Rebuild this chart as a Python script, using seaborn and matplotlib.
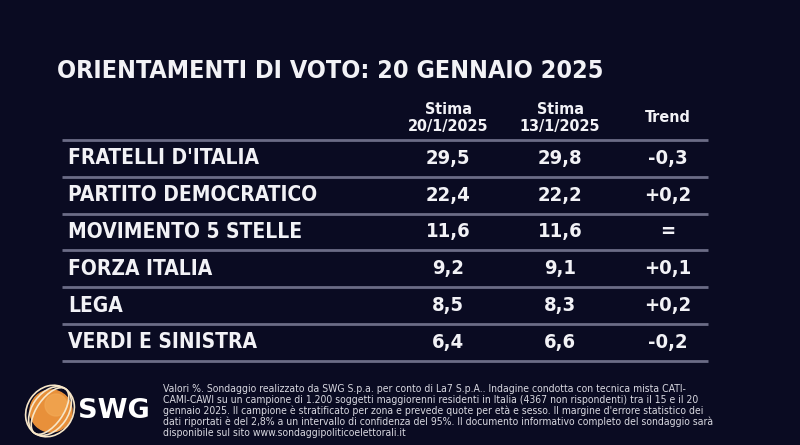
import numpy as np
import matplotlib
matplotlib.use("Agg")
import matplotlib.pyplot as plt
import matplotlib.patches as mpatches
import seaborn as sns

# Data
parties = ["FRATELLI D'ITALIA", "PARTITO DEMOCRATICO", "MOVIMENTO 5 STELLE",
           "FORZA ITALIA", "LEGA", "VERDI E SINISTRA"]
stima_20 = [29.5, 22.4, 11.6, 9.2, 8.5, 6.4]
stima_13 = [29.8, 22.2, 11.6, 9.1, 8.3, 6.6]
trend = ["-0,3", "+0,2", "=", "+0,1", "+0,2", "-0,2"]
headers = ["Stima\n20/1/2025", "Stima\n13/1/2025", "Trend"]
title = "ORIENTAMENTI DI VOTO: 20 GENNAIO 2025"
footer = [
    "Valori %. Sondaggio realizzato da SWG S.p.a. per conto di La7 S.p.A.. Indagine condotta con tecnica mista CATI-",
    "CAMI-CAWI su un campione di 1.200 soggetti maggiorenni residenti in Italia (4367 non rispondenti) tra il 15 e il 20",
    "gennaio 2025. Il campione è stratificato per zona e prevede quote per età e sesso. Il margine d'errore statistico dei",
    "dati riportati è del 2,8% a un intervallo di confidenza del 95%. Il documento informativo completo del sondaggio sarà",
    "disponibile sul sito www.sondaggipoliticoelettorali.it",
]

BG = "#0a0b22"
LINE = "#6b6c86"
FG = "#f2f2f6"

sns.set_theme(style="dark", rc={"axes.facecolor": BG, "figure.facecolor": BG})
plt.rcParams['font.family'] = ['DejaVu Sans']

def fmt(v):
    return f"{v:.1f}".replace(".", ",")

fig = plt.figure(figsize=(8, 4.45), dpi=100)
ax = fig.add_axes([0, 0, 1, 1])
ax.set_xlim(0, 800)
ax.set_ylim(445, 0)
ax.axis("off")

txt = dict(color=FG, fontweight="bold", fontstretch="condensed")

# Title
ax.text(57, 71, title, fontsize=18, ha="left", va="center", **txt)

# Table geometry
row_top = 140
row_h = 36.8
col_x = [448, 560, 668]
n = len(parties)

for x, h in zip(col_x, headers):
    ax.text(x, 118, h, fontsize=11.5, ha="center", va="center", linespacing=1.15, **txt)

bounds = row_top + np.arange(n + 1) * row_h
ax.hlines(bounds, 62, 708, color=LINE, lw=2)

for i in range(n):
    yc = row_top + (i + 0.5) * row_h
    ax.text(68, yc, parties[i], fontsize=15, ha="left", va="center", **txt)
    ax.text(col_x[0], yc, fmt(stima_20[i]), fontsize=14.5, ha="center", va="center", **txt)
    ax.text(col_x[1], yc, fmt(stima_13[i]), fontsize=14.5, ha="center", va="center", **txt)
    ax.text(col_x[2], yc, trend[i], fontsize=14.5, ha="center", va="center", **txt)

# Footer
for k, line in enumerate(footer):
    ax.text(163, 389 + k * 11, line, fontsize=7.45, color="#d8d8e0",
            ha="left", va="center", fontstretch="condensed")

# Logo
ax.add_patch(mpatches.Circle((51, 411), 21, color="#e8903a", zorder=3))
ax.add_patch(mpatches.Circle((56, 405), 11, color="#f2a955", zorder=3, alpha=0.7))
for ang, w in [(35, 46), (35, 36), (35, 26)]:
    ax.add_patch(mpatches.Ellipse((50, 411), w, 54, angle=ang, fill=False,
                                  ec="#f7e6c8", lw=1.2, zorder=4))
ax.text(78, 411, "SWG", fontsize=19.5, ha="left", va="center", color="white",
        fontweight="bold")

fig.savefig("out.png", dpi=100, facecolor=BG)
